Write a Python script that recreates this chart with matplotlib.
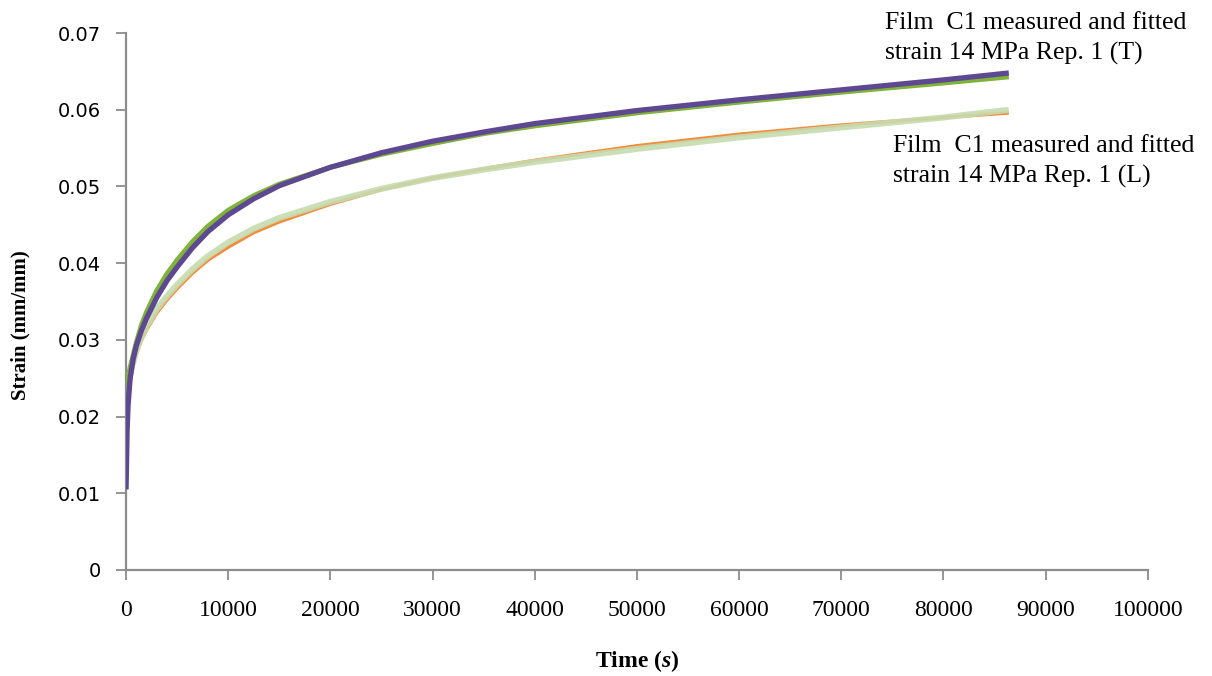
import matplotlib
matplotlib.use("Agg")
import matplotlib.pyplot as plt

# Creep strain of Film C1 at 14 MPa, Rep. 1 (T = transverse, L = longitudinal)
time_meas = [0, 100, 200, 400, 700, 1000, 1500, 2000, 3000, 4000, 5000, 6500,
             8000, 10000, 12500, 15000, 20000, 25000, 30000, 35000, 40000,
             50000, 60000, 70000, 80000, 86400]
strain_T_meas = [0.0105, 0.0180, 0.0215, 0.0250, 0.0275, 0.0292, 0.0312, 0.0328,
                 0.0355, 0.0377, 0.0395, 0.0420, 0.0441, 0.0463, 0.0484, 0.0501,
                 0.0525, 0.0544, 0.0559, 0.0571, 0.0582, 0.0599, 0.0613, 0.0626,
                 0.0639, 0.0648]
strain_L_meas = [0.0105, 0.0180, 0.0213, 0.0245, 0.0268, 0.0283, 0.0300, 0.0313,
                 0.0335, 0.0352, 0.0367, 0.0387, 0.0404, 0.0421, 0.0440, 0.0454,
                 0.0477, 0.0496, 0.0511, 0.0523, 0.0534, 0.0553, 0.0568, 0.0580,
                 0.0590, 0.0596]

time_fit = [0, 200, 400, 700, 1000, 1500, 2000, 3000, 4000, 5000, 6500, 8000,
            10000, 12500, 15000, 20000, 25000, 30000, 35000, 40000, 50000,
            60000, 70000, 80000, 86400]
strain_T_fit = [0.0240, 0.0252, 0.0264, 0.0280, 0.0296, 0.0319, 0.0336, 0.0364,
                0.0386, 0.0404, 0.0428, 0.0448, 0.0469, 0.0488, 0.0503, 0.0525,
                0.0542, 0.0556, 0.0569, 0.0579, 0.0596, 0.0610, 0.0623, 0.0635,
                0.0643]
strain_L_fit = [0.0240, 0.0250, 0.0258, 0.0270, 0.0285, 0.0303, 0.0317, 0.0340,
                0.0357, 0.0372, 0.0392, 0.0409, 0.0427, 0.0445, 0.0459, 0.0480,
                0.0497, 0.0511, 0.0522, 0.0532, 0.0549, 0.0564, 0.0577, 0.0590,
                0.0600]

x_ticks = list(range(0, 100001, 10000))
y_ticks = [0, 0.01, 0.02, 0.03, 0.04, 0.05, 0.06, 0.07]
y_tick_labels = ["0", "0.01", "0.02", "0.03", "0.04", "0.05", "0.06", "0.07"]

label_T = "Film  C1 measured and fitted\nstrain 14 MPa Rep. 1 (T)"
label_L = "Film  C1 measured and fitted\nstrain 14 MPa Rep. 1 (L)"

plt.rcParams["mathtext.fontset"] = "custom"
plt.rcParams["mathtext.bfit"] = "Liberation Serif:italic:bold"
plt.rcParams["mathtext.rm"] = "Liberation Serif:bold"

fig = plt.figure(figsize=(12.12, 6.76), dpi=100)
ax = fig.add_axes([0.104, 0.157, 0.843, 0.794])

axis_grey = "#8c8c8c"

# L series: orange measured under a wide pale-green fit
ax.plot(time_meas, strain_L_meas, color="#f38b3c", lw=2.6, solid_capstyle="butt", zorder=2)
ax.plot(time_fit, strain_L_fit, color="#c6dcb0", lw=4.4, alpha=0.9, solid_capstyle="butt", zorder=3)
# T series: green fit under the purple measured curve
ax.plot(time_fit, strain_T_fit, color="#7fb33a", lw=3.6, solid_capstyle="butt", zorder=4)
ax.plot(time_meas, strain_T_meas, color="#5e4891", lw=3.8, solid_capstyle="butt", zorder=5)

ax.set_xlim(0, 100000)
ax.set_ylim(0, 0.07)
ax.set_xticks(x_ticks)
ax.set_xticklabels([str(v) for v in x_ticks], fontfamily="Liberation Serif", fontsize=17)
ax.set_yticks(y_ticks)
ax.set_yticklabels(y_tick_labels, fontfamily="DejaVu Sans", fontsize=14)

for side in ("top", "right"):
    ax.spines[side].set_visible(False)
for side in ("left", "bottom"):
    ax.spines[side].set_color(axis_grey)
    ax.spines[side].set_linewidth(1.6)
ax.tick_params(axis="both", direction="out", length=7, width=1.3, color=axis_grey,
               labelcolor="black")
ax.tick_params(axis="x", pad=15)
ax.tick_params(axis="y", pad=11)

ax.set_xlabel(r"Time ($\mathbfit{s}$)", fontfamily="Liberation Serif", fontweight="bold",
              fontsize=17)
ax.xaxis.set_label_coords(0.5, -0.146)
ax.set_ylabel("Strain (mm/mm)", fontfamily="Liberation Serif", fontweight="bold",
              fontsize=15)
ax.yaxis.set_label_coords(-0.094, 0.456)

ax.text(74300, 0.0728, label_T, fontfamily="Liberation Serif", fontsize=18.5,
        ha="left", va="top", linespacing=1.45, clip_on=False)
ax.text(75100, 0.0567, label_L, fontfamily="Liberation Serif", fontsize=18.5,
        ha="left", va="top", linespacing=1.45, clip_on=False)

fig.savefig("out.png", dpi=100, facecolor="white")
